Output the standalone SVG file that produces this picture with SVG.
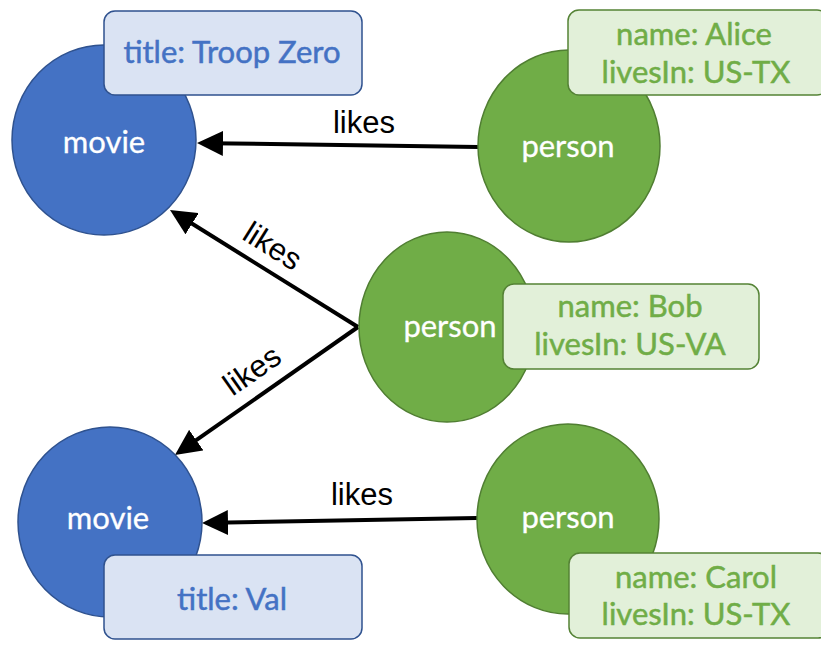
<svg xmlns="http://www.w3.org/2000/svg" width="821" height="659" viewBox="0 0 821 659">
  <defs>
    <style>
      .movie { fill: #4472c4; stroke: #2f528f; stroke-width: 1.5; }
      .person { fill: #70ad47; stroke: #507e32; stroke-width: 1.5; }
      .mbox { fill: #dae3f3; stroke: #2f528f; stroke-width: 1.5; }
      .pbox { fill: #e2f0d9; stroke: #548235; stroke-width: 1.5; }
      .nlabel { font-family: Lato, "Open Sans", sans-serif; font-size: 31px; fill: #ffffff; stroke: #ffffff; stroke-width: 0.3; text-anchor: middle; }
      .mtext { font-family: Lato, "Open Sans", sans-serif; font-size: 31px; fill: #4472c4; stroke: #4472c4; stroke-width: 0.5; text-anchor: middle; }
      .ptext { font-family: Lato, "Open Sans", sans-serif; font-size: 31px; fill: #70ad47; stroke: #70ad47; stroke-width: 0.5; text-anchor: middle; }
      .edge { stroke: #000000; stroke-width: 4; fill: none; marker-end: url(#arrow); }
      .elabel { font-family: "Liberation Sans", Arial, sans-serif; font-size: 31px; fill: #000000; text-anchor: middle; }
    </style>
    <marker id="arrow" viewBox="0 0 26 25" refX="14" refY="12.5" markerWidth="26" markerHeight="25" markerUnits="userSpaceOnUse" orient="auto">
      <path d="M0,0 L26,12.5 L0,25 z" fill="#000000"/>
    </marker>
  </defs>
  <rect x="0" y="0" width="821" height="659" fill="#ffffff"/>

  <g id="connectors">
    <line class="edge" x1="478" y1="147" x2="209" y2="143.2"/>
    <line class="edge" x1="358" y1="327" x2="180.2" y2="216.3"/>
    <line class="edge" x1="358" y1="327" x2="184.8" y2="448.1"/>
    <line class="edge" x1="477" y1="518" x2="214" y2="522.8"/>
    <text class="elabel" x="364" y="133">likes</text>
    <text class="elabel" transform="translate(267,255) rotate(32)">likes</text>
    <text class="elabel" transform="translate(258,379) rotate(-35)">likes</text>
    <text class="elabel" x="362" y="505">likes</text>
  </g>

  <g id="movie1">
    <ellipse class="movie" cx="104" cy="140" rx="92" ry="95"/>
    <text class="nlabel" x="104" y="153">movie</text>
    <rect class="mbox" x="104" y="11" width="258" height="84" rx="11"/>
    <text class="mtext" x="232" y="63">title: Troop Zero</text>
  </g>

  <g id="movie2">
    <ellipse class="movie" cx="110" cy="522" rx="92" ry="95"/>
    <text class="nlabel" x="108" y="529">movie</text>
    <rect class="mbox" x="104" y="555" width="258" height="84" rx="11"/>
    <text class="mtext" x="232" y="610">title: Val</text>
  </g>

  <g id="alice">
    <ellipse class="person" cx="569" cy="146" rx="91" ry="96"/>
    <text class="nlabel" x="568" y="157">person</text>
    <rect class="pbox" x="568" y="10" width="260" height="85" rx="11"/>
    <text class="ptext" x="694" y="45">name: Alice</text>
    <text class="ptext" x="696" y="83">livesIn: US-TX</text>
  </g>

  <g id="bob">
    <ellipse class="person" cx="447" cy="327" rx="88" ry="95"/>
    <text class="nlabel" x="450" y="337">person</text>
    <rect class="pbox" x="503" y="284" width="256" height="85" rx="11"/>
    <text class="ptext" x="630" y="317">name: Bob</text>
    <text class="ptext" x="630" y="355">livesIn: US-VA</text>
  </g>

  <g id="carol">
    <ellipse class="person" cx="568" cy="519" rx="91" ry="95"/>
    <text class="nlabel" x="568" y="528">person</text>
    <rect class="pbox" x="569" y="553" width="260" height="85" rx="11"/>
    <text class="ptext" x="696" y="588">name: Carol</text>
    <text class="ptext" x="696" y="625">livesIn: US-TX</text>
  </g>
</svg>
